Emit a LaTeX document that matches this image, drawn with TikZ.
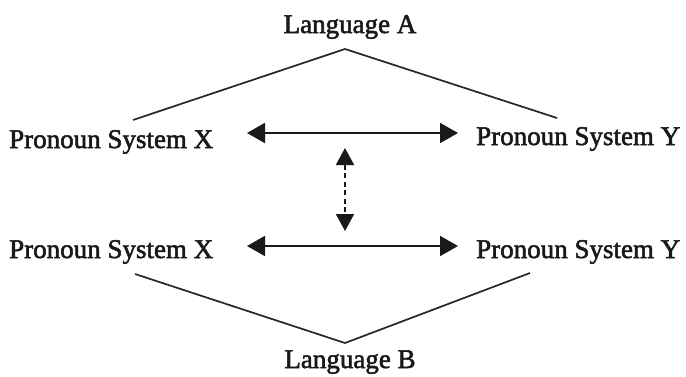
\documentclass[tikz,border=0pt]{standalone}
\usepackage{fontspec}
\setmainfont{Liberation Serif}
\newfontfamily\labelfont{Liberation Serif}[FakeBold=2]
\usetikzlibrary{arrows.meta}

\begin{document}
\begin{tikzpicture}[x=1pt,y=-1pt,
  label text/.style={inner sep=0pt,anchor=base,font=\labelfont\fontsize{27}{30}\selectfont,text=black!90},
  tree line/.style={line width=1.7pt,draw=black!85},
  link/.style={line width=1.8pt,draw=black!90,
    {Triangle[length=18pt,width=20pt]}-{Triangle[length=18pt,width=20pt]}},
  dashlink/.style={line width=1.8pt,draw=black!90,dash pattern=on 5pt off 3.5pt,
    {Triangle[length=17pt,width=18pt]}-{Triangle[length=17pt,width=18pt]}}]
  \useasboundingbox[fill=white] (0,0) rectangle (686,376);

  % labels
  \node[label text] (langA) at (350,33) {Language A};
  \node[label text,anchor=base west] (pxA) at (9,148) {Pronoun System X};
  \node[label text,anchor=base west] (pyA) at (476,145) {Pronoun System Y};
  \node[label text,anchor=base west] (pxB) at (9,258) {Pronoun System X};
  \node[label text,anchor=base west] (pyB) at (476,258) {Pronoun System Y};
  \node[label text] (langB) at (350,368) {Language B};

  % tree branches
  \coordinate (topA) at (345,49);
  \coordinate (lA) at (133,120);
  \coordinate (rA) at (557,118);
  \coordinate (botB) at (345,343);
  \coordinate (lB) at (135,274);
  \coordinate (rB) at (530,273);
  \draw[tree line] (lA) -- (topA) -- (rA);
  \draw[tree line] (lB) -- (botB) -- (rB);

  % correspondences
  \coordinate (a1) at (247,133);
  \coordinate (a2) at (458,133);
  \coordinate (b1) at (247,246);
  \coordinate (b2) at (458,246);
  \coordinate (v1) at (345,148);
  \coordinate (v2) at (345,231);
  \draw[link] (a1) -- (a2);
  \draw[link] (b1) -- (b2);
  \draw[dashlink] (v1) -- (v2);
\end{tikzpicture}
\end{document}
